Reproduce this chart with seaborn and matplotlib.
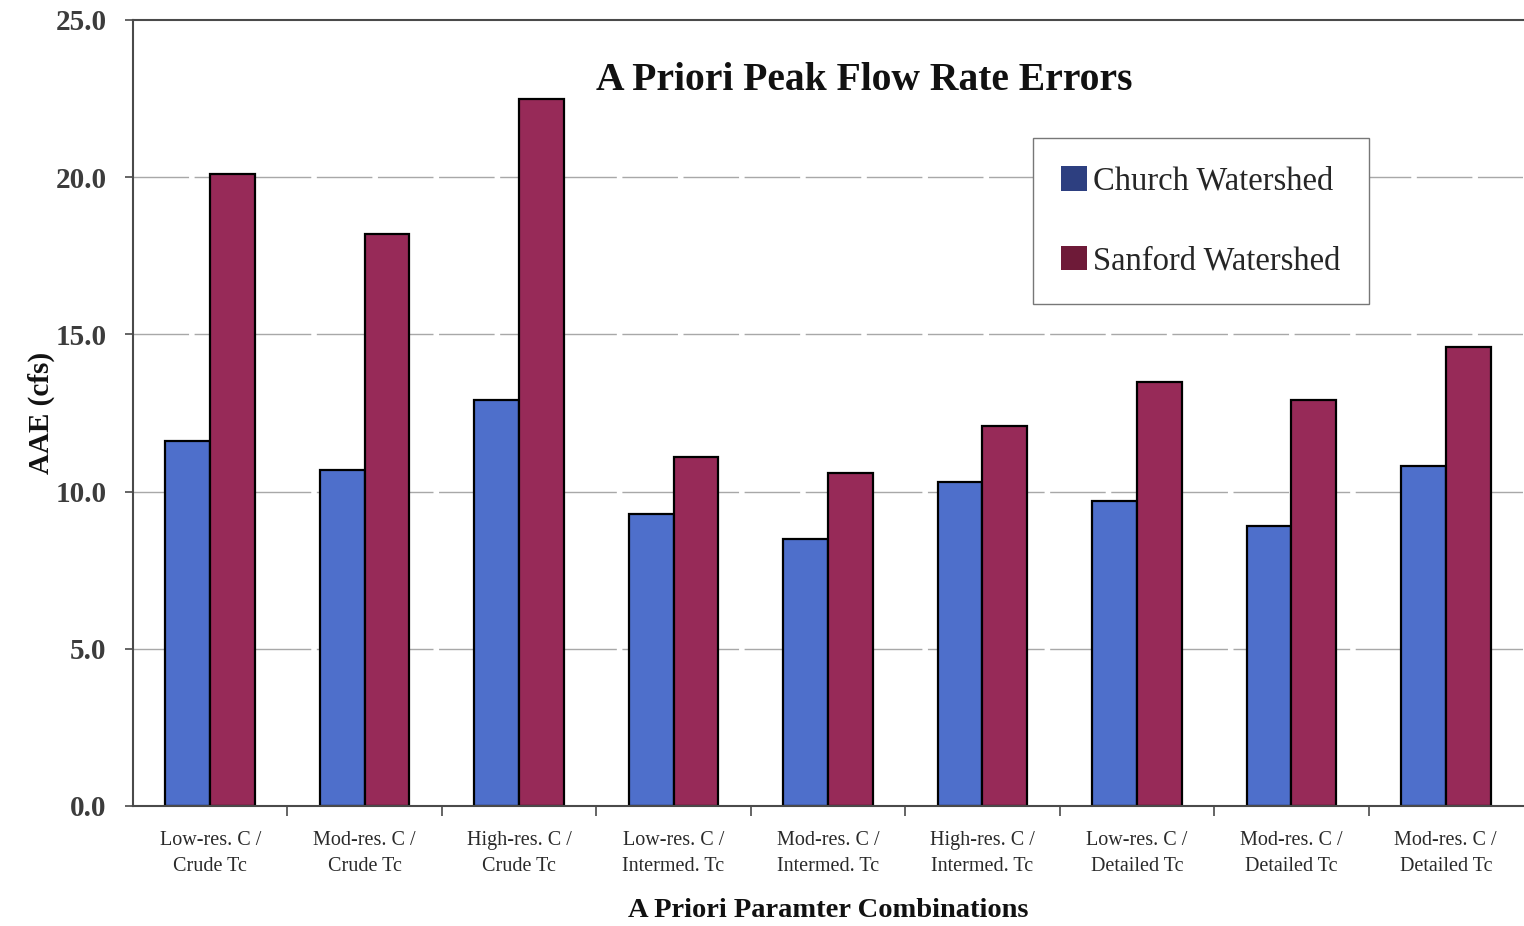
import matplotlib
matplotlib.use("Agg")
import matplotlib.pyplot as plt
import seaborn as sns
import pandas as pd
import numpy as np
from matplotlib.patches import Patch
from matplotlib.ticker import FixedLocator, FormatStrFormatter

# Parameter combinations (x categories)
combos = [
    "Low-res. C /\nCrude Tc",
    "Mod-res. C /\nCrude Tc",
    "High-res. C /\nCrude Tc",
    "Low-res. C /\nIntermed. Tc",
    "Mod-res. C /\nIntermed. Tc",
    "High-res. C /\nIntermed. Tc",
    "Low-res. C /\nDetailed Tc",
    "Mod-res. C /\nDetailed Tc",
    "Mod-res. C /\nDetailed Tc ",
]
series_names = ["Church Watershed", "Sanford Watershed"]
church_aae = [11.6, 10.7, 12.9, 9.3, 8.5, 10.3, 9.7, 8.9, 10.8]
sanford_aae = [20.1, 18.2, 22.5, 11.1, 10.6, 12.1, 13.5, 12.9, 14.6]
y_ticks = [0.0, 5.0, 10.0, 15.0, 20.0, 25.0]

df = pd.DataFrame({
    "combo": combos * 2,
    "watershed": [series_names[0]] * len(combos) + [series_names[1]] * len(combos),
    "aae": church_aae + sanford_aae,
})

sns.set_theme(style="white")
plt.rcParams["font.family"] = ["Liberation Serif", "DejaVu Serif"]

bar_colors = {series_names[0]: "#4e6fcb", series_names[1]: "#972a58"}
swatch_colors = ["#2d3f80", "#6e1a38"]

fig = plt.figure(figsize=(15.24, 9.26), dpi=100)
ax = fig.add_axes([133 / 1524, 120 / 926, 1390 / 1524, 786 / 926])

sns.barplot(
    data=df, x="combo", y="aae", hue="watershed", order=combos,
    hue_order=series_names, palette=bar_colors, width=0.58,
    edgecolor="black", linewidth=1.6, saturation=1, ax=ax, legend=False,
)

ax.set_xlim(-0.5, len(combos) - 0.5)
ax.set_ylim(0, 25)
ax.yaxis.set_major_locator(FixedLocator(y_ticks))
ax.yaxis.set_major_formatter(FormatStrFormatter("%.1f"))

# horizontal grid lines
for v in y_ticks[1:-1]:
    ax.axhline(v, color="#a8a8a8", linewidth=1.0, linestyle=(0, (40, 4)), zorder=0)

# spines
for side in ["left", "top", "bottom"]:
    ax.spines[side].set_color("#4a4a4a")
    ax.spines[side].set_linewidth(1.5)
ax.spines["right"].set_visible(False)

# y tick labels
ax.tick_params(axis="y", which="major", left=True, length=6, width=1.2,
               color="#4a4a4a", labelsize=21, labelcolor="#3c3c3c", pad=13)
for lbl in ax.get_yticklabels():
    lbl.set_fontweight("bold")

# x labels centred under groups, tick marks between groups
ax.tick_params(axis="x", which="major", length=0, labelsize=14.5,
               labelcolor="#2a2a2a", pad=18)
ax.set_xticks(np.arange(len(combos)))
ax.set_xticklabels([c.strip() for c in combos], linespacing=1.5)
ax.xaxis.set_minor_locator(FixedLocator(np.arange(0.5, len(combos) - 0.5, 1.0)))
ax.tick_params(axis="x", which="minor", bottom=True, length=7, width=1.2,
               color="#4a4a4a")

ax.set_xlabel("A Priori Paramter Combinations", fontsize=20.5, fontweight="bold",
              color="#111111", labelpad=16)
ax.set_ylabel("AAE (cfs)", fontsize=21, fontweight="bold", color="#111111",
              labelpad=0)

ax.text(0.526, 0.923, "A Priori Peak Flow Rate Errors", transform=ax.transAxes,
        ha="center", va="center", fontsize=28.5, fontweight="bold", color="#111111")

handles = [Patch(facecolor=c, edgecolor="none") for c in swatch_colors]
leg = ax.legend(
    handles, series_names, loc="upper left",
    bbox_to_anchor=(1033 / 1524, 1 - 138 / 926), bbox_transform=fig.transFigure,
    fontsize=23.5, frameon=True, fancybox=False, handlelength=0.8,
    handleheight=0.8, handletextpad=0.2, labelspacing=1.5,
    borderpad=0.85, borderaxespad=0, framealpha=1,
)
leg.get_frame().set_edgecolor("#777777")
leg.get_frame().set_linewidth(1.0)

fig.savefig("out.png", dpi=100, facecolor="white")
